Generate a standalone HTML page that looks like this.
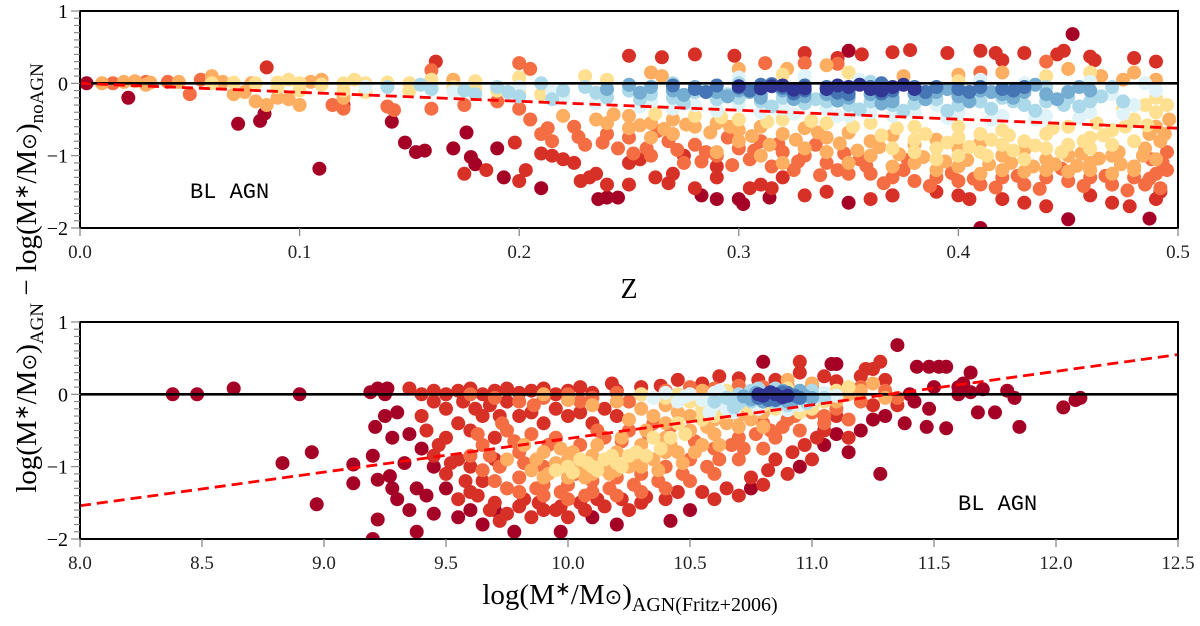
<!DOCTYPE html>
<html><head><meta charset="utf-8"><style>
html,body{margin:0;padding:0;background:#fff;}
svg{display:block;}
</style></head><body>
<svg id="chart" width="1200" height="626" viewBox="0 0 1200 626" xmlns="http://www.w3.org/2000/svg" font-family="'Liberation Serif', serif">
<g id="top"></g>
<g id="bot"></g>
<text transform="translate(36,278) rotate(-90)" text-anchor="middle" font-size="29">log(M<tspan font-size="19" dy="-8">∗</tspan><tspan dy="8">/M</tspan><tspan font-size="20">⊙</tspan>)<tspan font-size="19" dy="7">AGN</tspan><tspan dy="-7"> − log(M</tspan><tspan font-size="19" dy="-8">∗</tspan><tspan dy="8">/M</tspan><tspan font-size="20">⊙</tspan>)<tspan font-size="19" dy="7">noAGN</tspan></text>
<text x="629" y="298" text-anchor="middle" font-size="28">Z</text>
<text x="630" y="604" text-anchor="middle" font-size="29">log(M<tspan font-size="19" dy="-9">∗</tspan><tspan dy="9">/M</tspan><tspan font-size="21">⊙</tspan>)<tspan font-size="20" dy="7">AGN(Fritz+2006)</tspan></text>
<text x="190" y="198" font-family="'Liberation Mono', monospace" font-size="22">BL AGN</text>
<text x="958" y="510" font-family="'Liberation Mono', monospace" font-size="22">BL AGN</text>
</svg>
<script>
const palette = ['#a50026','#d73027','#f46d43','#fdae61','#fee090','#e0f3f8','#abd9e9','#74add1','#4575b4','#313695'];
const topXTicks = [0.0,0.1,0.2,0.3,0.4,0.5];
const topXTickLabels = ['0.0','0.1','0.2','0.3','0.4','0.5'];
const botXTicks = [8.0,8.5,9.0,9.5,10.0,10.5,11.0,11.5,12.0,12.5];
const botXTickLabels = ['8.0','8.5','9.0','9.5','10.0','10.5','11.0','11.5','12.0','12.5'];
const yTicks = [1,0,-1,-2];
const yTickLabels = ['1','0','−1','−2'];
const topFitX = [0.0,0.5];
const topFitY = [0.0,-0.62];
const botFitX = [8.0,12.5];
const botFitY = [-1.54,0.55];

const topC0 = [[0.003,0.0],[0.022,-0.2],[0.072,-0.56],[0.082,-0.52],[0.084,-0.42],[0.109,-1.18],[0.142,-0.53],[0.148,-0.82],[0.153,-0.95],[0.157,-0.93],[0.17,-0.9],[0.176,-0.68],[0.178,-1.02],[0.18,-1.12],[0.19,-0.9],[0.193,-1.3],[0.21,-1.45],[0.236,-1.6],[0.24,-1.58],[0.245,-1.58],[0.29,-1.6],[0.283,-1.55],[0.3,-1.6],[0.302,-1.67],[0.314,-1.58],[0.35,-1.65],[0.37,-1.55],[0.41,-2.0],[0.45,-1.88],[0.487,-1.87],[0.35,0.45],[0.452,0.68]];
const topC1 = [[0.085,0.22],[0.162,0.3],[0.25,0.38],[0.265,0.36],[0.28,0.4],[0.298,0.38],[0.33,0.42],[0.345,0.35],[0.356,0.4],[0.37,0.43],[0.378,0.46],[0.41,0.45],[0.417,0.42],[0.43,0.42],[0.445,0.4],[0.448,0.45],[0.46,0.37],[0.462,0.32],[0.48,0.35],[0.49,0.3],[0.395,0.42],[0.42,0.32],[0.12,-0.3],[0.198,-0.82],[0.21,-0.97],[0.215,-1.0],[0.22,-1.05],[0.225,-1.1],[0.232,-1.3],[0.235,-1.25],[0.228,-1.35],[0.24,-1.4],[0.25,-1.1],[0.255,-1.05],[0.262,-1.3],[0.268,-1.38],[0.27,-1.25],[0.28,-1.45],[0.29,-1.3],[0.305,-1.45],[0.31,-1.4],[0.32,-1.3],[0.315,-1.45],[0.33,-1.55],[0.34,-1.5],[0.25,-1.4],[0.2,-1.35],[0.203,-1.2],[0.175,-1.25],[0.185,-1.2],[0.36,-1.6],[0.37,-1.55],[0.39,-1.5],[0.4,-1.55],[0.405,-1.6],[0.42,-1.6],[0.43,-1.65],[0.44,-1.7],[0.46,-1.55],[0.47,-1.65],[0.478,-1.7],[0.49,-1.6],[0.492,-1.5],[0.29,-1.15],[0.275,-1.0]];
const topC2 = [[0.115,-0.3],[0.12,-0.35],[0.14,-0.32],[0.143,-0.37],[0.16,-0.35],[0.175,-0.3],[0.19,-0.25],[0.2,-0.35],[0.205,-0.5],[0.21,-0.7],[0.215,-0.8],[0.225,-0.6],[0.23,-0.85],[0.24,-0.7],[0.245,-0.9],[0.25,-0.75],[0.258,-0.9],[0.26,-1.0],[0.268,-0.8],[0.275,-1.1],[0.28,-0.85],[0.285,-0.95],[0.29,-1.0],[0.295,-0.75],[0.3,-0.9],[0.305,-1.05],[0.31,-0.8],[0.315,-1.15],[0.32,-0.95],[0.325,-1.2],[0.33,-1.0],[0.335,-0.85],[0.34,-1.1],[0.345,-1.2],[0.35,-1.25],[0.355,-1.05],[0.36,-1.25],[0.37,-1.3],[0.375,-1.2],[0.38,-1.35],[0.39,-1.3],[0.4,-1.35],[0.41,-1.4],[0.42,-1.3],[0.43,-1.4],[0.44,-1.3],[0.45,-1.35],[0.46,-1.3],[0.47,-1.4],[0.48,-1.3],[0.49,-1.25],[0.493,-1.1],[0.492,-1.45],[0.485,-1.4],[0.33,0.28],[0.312,0.28],[0.345,0.27],[0.41,0.15],[0.44,0.3],[0.16,0.18],[0.205,0.2],[0.2,0.28],[0.03,0.02],[0.015,0.0],[0.04,0.02],[0.055,0.05],[0.05,-0.15],
[0.213,-0.62],[0.227,-0.74],[0.238,-0.82],[0.252,-0.97],[0.263,-0.66],[0.272,-0.92],[0.283,-1.08],[0.297,-1.13],[0.307,-0.93],[0.318,-0.84],[0.327,-1.08],[0.337,-1.27],[0.348,-0.97],[0.358,-1.14],[0.366,-1.38],[0.377,-1.06],[0.387,-1.42],[0.397,-1.24],[0.407,-1.32],[0.417,-1.44],[0.427,-1.28],[0.437,-1.46],[0.447,-1.18],[0.457,-1.42],[0.467,-1.28],[0.477,-1.48],[0.487,-1.32],[0.495,-1.2],[0.495,-0.95],[0.488,-1.05]];
const topC3 = [[0.01,0.0],[0.02,0.02],[0.025,0.03],[0.032,0.01],[0.045,0.02],[0.06,0.03],[0.065,0.02],[0.07,-0.15],[0.075,-0.12],[0.08,-0.25],[0.085,-0.3],[0.09,-0.2],[0.095,-0.22],[0.1,-0.3],[0.105,0.02],[0.11,0.05],[0.078,0.0],[0.06,0.1],[0.12,-0.2],[0.03,-0.02],[0.22,-0.45],[0.235,-0.5],[0.25,-0.45],[0.26,-0.55],[0.27,-0.5],[0.28,-0.6],[0.29,-0.55],[0.3,-0.65],[0.31,-0.6],[0.32,-0.7],[0.33,-0.62],[0.34,-0.75],[0.35,-0.68],[0.36,-0.8],[0.37,-0.72],[0.38,-0.85],[0.39,-0.78],[0.4,-0.9],[0.41,-0.82],[0.42,-1.0],[0.43,-0.92],[0.44,-1.05],[0.45,-1.0],[0.46,-1.1],[0.47,-1.0],[0.48,-1.15],[0.49,-1.05],[0.492,-0.8],[0.49,-0.6],[0.485,-0.9],[0.29,-0.95],[0.3,-0.8],[0.31,-1.0],[0.32,-1.1],[0.33,-0.9],[0.34,-0.95],[0.35,-1.1],[0.36,-1.0],[0.37,-1.15],[0.38,-1.1],[0.39,-1.2],[0.4,-1.15],[0.41,-1.25],[0.42,-1.2],[0.43,-1.22],[0.44,-1.2],[0.45,-1.22],[0.46,-1.2],[0.47,-1.25],[0.48,-1.2],[0.26,-0.75],[0.27,-0.7],[0.25,-0.62],[0.24,-0.55],[0.17,0.05],[0.26,0.15],[0.3,0.2],[0.322,0.2],[0.34,0.25],[0.375,0.1],[0.4,0.12],[0.42,0.15],[0.45,0.2],[0.465,0.1],[0.475,0.05],[0.49,0.05],[0.265,0.1],[0.48,0.15],
[0.243,-0.43],[0.255,-0.58],[0.266,-0.63],[0.276,-0.57],[0.287,-0.68],[0.296,-0.6],[0.306,-0.73],[0.314,-0.85],[0.326,-0.78],[0.336,-0.68],[0.346,-0.83],[0.354,-0.93],[0.364,-0.88],[0.373,-0.98],[0.384,-1.02],[0.394,-1.08],[0.404,-1.06],[0.414,-1.12],[0.424,-1.1],[0.434,-1.15],[0.444,-1.12],[0.454,-1.14],[0.464,-1.04],[0.474,-1.12],[0.484,-1.0],[0.494,-0.7],[0.496,-0.5],[0.487,-0.7],[0.473,-0.95],[0.456,-0.97]];
const topC4 = [[0.06,0.0],[0.07,0.01],[0.08,0.0],[0.09,0.01],[0.1,0.0],[0.11,-0.02],[0.12,0.0],[0.13,0.0],[0.14,0.01],[0.15,0.0],[0.16,-0.02],[0.17,-0.05],[0.18,-0.08],[0.19,-0.1],[0.2,-0.12],[0.21,-0.15],[0.12,-0.1],[0.13,-0.12],[0.15,-0.1],[0.09,-0.05],[0.1,-0.1],[0.095,0.05],[0.125,0.05],[0.16,0.05],[0.18,0.03],[0.2,0.08],[0.23,0.1],[0.24,0.05],[0.28,-0.45],[0.3,-0.5],[0.32,-0.5],[0.34,-0.55],[0.36,-0.55],[0.38,-0.6],[0.4,-0.6],[0.42,-0.65],[0.44,-0.7],[0.46,-0.75],[0.48,-0.8],[0.37,-0.9],[0.38,-0.95],[0.39,-0.9],[0.4,-1.0],[0.41,-0.95],[0.42,-0.85],[0.43,-0.8],[0.44,-0.9],[0.45,-0.85],[0.46,-0.9],[0.47,-0.85],[0.39,-1.05],[0.4,-0.75],[0.41,-0.7],[0.43,-1.05],[0.45,-0.6],[0.47,-0.65],[0.48,-0.5],[0.49,-0.4],[0.485,-0.3],[0.49,-0.2],[0.475,-0.35],[0.32,0.12],[0.35,0.15],[0.4,0.03],[0.44,0.1],[0.46,0.15],
[0.262,-0.42],[0.292,-0.47],[0.313,-0.53],[0.333,-0.52],[0.352,-0.6],[0.372,-0.62],[0.385,-0.7],[0.395,-0.82],[0.405,-0.88],[0.415,-0.78],[0.425,-0.93],[0.435,-0.86],[0.447,-0.95],[0.457,-0.8],[0.466,-0.72],[0.476,-0.6],[0.486,-0.58],[0.495,-0.3],[0.413,-1.0],[0.423,-0.72],[0.443,-0.62],[0.463,-0.55],[0.38,-0.78],[0.365,-0.72]];
const topC5 = [[0.13,-0.05],[0.17,-0.12],[0.2,-0.05],[0.22,-0.2],[0.24,-0.15],[0.26,-0.25],[0.28,-0.3],[0.3,-0.3],[0.32,-0.35],[0.34,-0.35],[0.36,-0.4],[0.38,-0.4],[0.4,-0.4],[0.42,-0.45],[0.44,-0.45],[0.46,-0.4],[0.48,-0.3],[0.47,-0.15],[0.45,-0.1],[0.43,0.0],[0.41,0.05],[0.3,0.08],[0.33,0.1],[0.355,0.05],[0.25,-0.05],[0.35,-0.45],[0.31,-0.4],[0.39,-0.3],
[0.215,-0.12],[0.235,-0.27],[0.255,-0.32],[0.27,-0.35],[0.29,-0.38],[0.325,-0.42],[0.345,-0.45],[0.37,-0.45],[0.395,-0.48],[0.415,-0.5],[0.435,-0.5],[0.455,-0.48],[0.475,-0.42],[0.49,-0.1],[0.485,0.0],[0.46,0.02]];
const topC6 = [[0.14,-0.05],[0.16,-0.08],[0.18,-0.15],[0.2,-0.18],[0.22,-0.1],[0.23,-0.05],[0.24,-0.2],[0.25,-0.1],[0.26,-0.15],[0.27,-0.2],[0.28,-0.12],[0.29,-0.22],[0.3,-0.2],[0.31,-0.25],[0.32,-0.2],[0.33,-0.28],[0.34,-0.25],[0.35,-0.3],[0.36,-0.25],[0.37,-0.3],[0.38,-0.28],[0.39,-0.22],[0.4,-0.3],[0.41,-0.25],[0.42,-0.2],[0.43,-0.3],[0.44,-0.25],[0.45,-0.2],[0.46,-0.25],[0.47,-0.05],[0.44,-0.05],[0.3,0.0],[0.27,0.0],[0.36,0.02],[0.21,0.0],[0.19,-0.05],
[0.155,-0.02],[0.175,-0.1],[0.195,-0.12],[0.215,-0.22],[0.235,-0.13],[0.255,-0.22],[0.275,-0.28],[0.295,-0.15],[0.315,-0.32],[0.335,-0.22],[0.355,-0.36],[0.375,-0.38],[0.395,-0.38],[0.415,-0.35],[0.435,-0.38],[0.455,-0.32],[0.465,-0.18],[0.475,-0.25],[0.448,-0.3],[0.425,-0.25]];
const topC7 = [[0.24,-0.08],[0.26,-0.05],[0.27,-0.1],[0.28,-0.05],[0.29,-0.12],[0.3,-0.1],[0.31,-0.15],[0.32,-0.1],[0.33,-0.18],[0.34,-0.15],[0.35,-0.2],[0.36,-0.15],[0.37,-0.2],[0.38,-0.15],[0.39,-0.12],[0.4,-0.18],[0.41,-0.1],[0.42,-0.15],[0.43,-0.12],[0.44,-0.15],[0.45,-0.12],[0.46,-0.1],[0.37,-0.25],[0.31,-0.2],[0.25,-0.02],
[0.255,-0.13],[0.275,-0.16],[0.295,-0.18],[0.305,-0.12],[0.325,-0.22],[0.345,-0.24],[0.365,-0.28],[0.385,-0.22],[0.405,-0.25],[0.425,-0.2],[0.445,-0.22],[0.455,-0.05],[0.435,-0.02],[0.415,-0.12],[0.395,-0.08]];
const topC8 = [[0.27,-0.03],[0.28,-0.08],[0.29,-0.03],[0.3,-0.06],[0.31,-0.02],[0.32,-0.06],[0.33,-0.1],[0.34,-0.05],[0.35,-0.1],[0.36,-0.05],[0.37,-0.1],[0.38,-0.05],[0.39,-0.05],[0.4,-0.08],[0.41,-0.05],[0.42,-0.08],[0.43,-0.05],[0.35,-0.15],[0.33,-0.03],
[0.285,-0.12],[0.305,-0.1],[0.325,-0.14],[0.345,-0.13],[0.365,-0.14],[0.385,-0.12],[0.405,-0.12],[0.425,-0.1],[0.315,-0.01],[0.365,0.0]];
const topC9 = [[0.3,-0.04],[0.31,-0.07],[0.32,-0.03],[0.33,-0.07],[0.34,-0.08],[0.35,-0.05],[0.36,-0.08],[0.37,-0.05],[0.38,-0.08],[0.355,-0.02],[0.325,-0.09],[0.345,-0.03],[0.365,-0.1],[0.375,-0.02],[0.315,-0.04]];

const botC0 = [[8.38,0],[8.48,0],[8.63,0.08],[8.9,0],[8.83,-0.95],[8.95,-0.8],[8.97,-1.52],[9.12,-0.97],[9.12,-1.23],[9.2,-0.85],[9.21,-0.45],[9.22,-1.18],[9.22,-1.73],[9.27,-1.13],[9.3,-1.45],[9.2,-2.0],[9.19,0.03],[9.22,0.08],[9.26,0.08],[9.25,0],[9.38,-1.9],[9.35,-1.6],[9.45,-1.65],[9.55,-1.7],[9.78,-1.9],[9.97,-1.9],[10.42,-1.75],[11.1,-0.55],[11.15,-0.8],[11.28,-1.1],[11.38,-0.4],[11.42,-0.1],[11.47,-0.45],[11.48,-0.2],[11.55,-0.47],[11.6,0.0],[11.62,0.15],[11.65,0.03],[11.68,-0.25],[11.7,0.07],[11.75,-0.25],[11.8,0.05],[11.83,-0.05],[11.85,-0.45],[12.03,-0.18],[12.08,-0.08],[12.1,-0.05],[11.35,0.68],[11.43,0.38],[11.48,0.38],[11.52,0.38],[11.55,0.38],[11.65,0.3],[11.6,0.1],[11.5,0.1],[11.4,0.0],[11.1,0.42],[11.08,0.42],[10.8,0.45],[9.25,-0.3],[9.3,-0.25],[9.28,-0.6],[9.35,-0.55],[9.4,-0.75],[9.33,-0.95],[9.45,-1.0],[9.5,-1.3],[9.38,-1.3],[9.42,-1.4],[9.28,-1.3],[9.6,-1.6],[9.65,-1.8],[9.7,-1.6],[10.1,-1.7],[10.2,-1.8],[10.5,-1.6],[10.75,-1.3],[10.95,-1.0],[11.05,-0.7],[11.2,-0.5],[11.25,-0.35],[11.3,-0.3]];
const botC1 = [[9.35,0.08],[9.4,0.0],[9.45,0.05],[9.5,0.0],[9.55,0.05],[9.6,0.08],[9.65,0.0],[9.7,0.05],[9.75,0.08],[9.8,0.02],[9.85,0.05],[9.9,0.08],[9.95,0.0],[10.0,0.05],[10.05,0.1],[10.1,0.02],[10.18,0.15],[10.2,0.05],[10.3,0.1],[10.38,0.12],[10.45,0.2],[10.55,0.15],[10.62,0.25],[10.7,0.22],[10.78,0.2],[10.85,0.2],[10.95,0.3],[11.05,0.25],[11.1,0.18],[11.2,0.25],[11.3,0.2],[11.25,0.35],[9.4,-0.3],[9.5,-0.2],[9.55,-0.4],[9.6,-0.5],[9.65,-0.3],[9.7,-0.6],[9.5,-0.6],[9.45,-0.85],[9.55,-0.9],[9.6,-1.0],[9.65,-1.2],[9.7,-0.9],[9.5,-1.1],[9.55,-1.45],[9.6,-1.35],[9.7,-1.5],[9.75,-1.65],[9.8,-1.55],[9.85,-1.7],[9.9,-1.6],[9.95,-1.6],[10.0,-1.7],[10.05,-1.5],[10.15,-1.55],[10.25,-1.6],[10.3,-1.5],[10.4,-1.45],[10.6,-1.45],[10.7,-1.4],[10.8,-1.25],[10.9,-1.1],[10.85,-0.9],[11.0,-0.9],[11.05,-0.5],[11.1,-0.3],[11.15,-0.6],[11.25,-0.15],[11.35,-0.15],[11.3,0.0],[9.8,-0.3],[9.75,-0.1],[10.0,-0.3],[10.1,-0.4],[10.2,-0.3],[9.9,-0.4],[11.28,0.45],[11.22,0.35],[10.95,0.45],
[9.42,-0.5],[9.47,-0.7],[9.52,-0.95],[9.58,-1.2],[9.63,-1.4],[9.68,-1.6],[9.72,-1.75],[9.82,-1.45],[9.88,-1.5],[9.97,-1.55],[10.07,-1.6],[10.12,-1.45],[10.22,-1.45],[10.32,-1.42],[10.45,-1.35],[10.55,-1.35],[10.65,-1.3],[10.75,-1.15],[10.82,-1.05],[10.92,-0.8],[10.97,-0.7],[11.02,-0.6],[9.62,-0.2],[9.72,-0.3],[9.85,-0.25],[9.95,-0.2],[10.05,-0.25],[10.15,-0.2],[9.45,-0.1],[9.57,-0.1],[9.68,-0.15]];
const botC2 = [[9.6,0.0],[9.7,-0.05],[9.8,-0.1],[9.9,-0.05],[10.0,0.0],[10.1,-0.05],[10.2,0.02],[10.3,0.0],[10.4,0.05],[10.5,0.1],[10.6,0.08],[10.7,0.12],[10.8,0.1],[10.9,0.12],[11.0,0.1],[11.1,0.05],[11.2,0.1],[11.3,0.05],[11.35,-0.05],[11.2,-0.1],[11.1,-0.2],[11.0,-0.25],[10.9,-0.35],[10.95,-0.5],[10.85,-0.6],[10.8,-0.75],[10.7,-0.9],[10.6,-1.1],[10.5,-1.2],[10.4,-1.3],[10.3,-1.35],[10.2,-1.4],[10.1,-1.35],[10.0,-1.45],[9.9,-1.4],[9.8,-1.35],[9.75,-1.3],[9.7,-1.2],[9.65,-1.05],[9.6,-0.85],[9.65,-0.7],[9.75,-0.5],[9.85,-0.55],[9.95,-0.6],[10.05,-0.7],[10.15,-0.6],[10.25,-0.5],[10.35,-0.4],[9.8,-0.8],[9.9,-1.0],[10.8,-0.4],[10.7,-0.6],[10.6,-0.75],[10.5,-0.9],[10.4,-1.0],[10.3,-1.1],[10.2,-1.15],[10.1,-1.2],[10.0,-1.25],[9.9,-1.25],[9.8,-1.15],[11.15,-0.35],[11.05,-0.4],
[9.63,-0.55],[9.68,-0.85],[9.72,-1.0],[9.73,-0.4],[9.78,-0.65],[9.82,-0.95],[9.87,-1.3],[9.92,-0.7],[9.97,-1.35],[10.03,-1.1],[10.07,-1.4],[10.12,-0.5],[10.17,-1.3],[10.22,-0.65],[10.27,-1.25],[10.33,-0.55],[10.37,-1.2],[10.42,-0.45],[10.47,-1.1],[10.52,-0.65],[10.57,-1.0],[10.62,-0.9],[10.67,-0.7],[10.72,-0.75],[10.77,-0.55],[10.83,-0.5],[10.88,-0.45],[10.93,-0.3],[10.97,-0.15],[11.05,-0.3],[9.86,-0.15],[10.05,-0.1],[10.25,-0.1],[10.45,-0.05]];
const botC3 = [[9.9,0.0],[10.0,-0.08],[10.1,-0.15],[10.2,-0.1],[10.3,-0.2],[10.4,-0.15],[10.5,-0.05],[10.55,0.05],[10.6,-0.2],[10.7,-0.3],[10.8,-0.25],[10.9,-0.2],[11.0,-0.15],[11.1,-0.1],[11.15,0.0],[11.2,0.05],[11.25,0.15],[11.0,0.15],[10.9,0.2],[11.3,-0.05],[9.75,-0.9],[9.85,-1.05],[9.95,-0.95],[10.05,-1.0],[10.15,-0.95],[10.25,-1.0],[10.35,-0.9],[10.45,-0.8],[10.55,-0.7],[10.6,-0.55],[10.5,-0.5],[10.4,-0.6],[10.3,-0.7],[10.2,-0.8],[10.1,-0.85],[10.0,-1.15],[9.9,-1.15],[10.1,-1.1],[10.2,-1.05],[10.3,-1.0],[10.4,-0.8],[10.0,-0.9],[9.9,-0.8],[10.5,-0.3],[10.4,-0.4],[10.7,-0.45],[10.75,-0.35],[10.85,-0.1],
[9.82,-0.7],[9.87,-0.9],[9.92,-1.1],[9.97,-0.75],[10.02,-0.8],[10.07,-1.15],[10.12,-0.7],[10.17,-1.1],[10.22,-0.6],[10.27,-0.9],[10.32,-0.5],[10.37,-1.05],[10.42,-0.7],[10.47,-0.95],[10.52,-0.8],[10.57,-0.45],[10.62,-0.7],[10.65,-0.4],[10.35,-0.3],[10.25,-0.35],[10.6,-0.35],[10.8,-0.45],[10.45,-0.25]];
const botC4 = [[10.3,0.0],[10.4,-0.05],[10.45,0.0],[10.5,-0.1],[10.55,-0.15],[10.6,-0.05],[10.65,-0.1],[10.7,-0.15],[10.75,-0.2],[10.8,-0.15],[10.85,-0.2],[10.65,0.05],[10.9,0.08],[10.95,-0.25],[11.0,-0.2],[11.05,-0.1],[11.1,0.05],[11.15,0.1],[10.0,-1.0],[10.1,-1.0],[10.15,-0.9],[10.2,-0.95],[10.25,-0.85],[10.05,-0.9],
[9.95,-1.05],[10.02,-1.08],[10.08,-0.95],[10.12,-1.05],[10.18,-0.85],[10.22,-1.0],[10.28,-0.8],[10.32,-0.85],[10.38,-0.75],[10.42,-0.6],[10.48,-0.55],[10.35,-0.6],[10.55,-0.35],[10.6,-0.3],[10.45,-0.4],[10.65,-0.25],[10.55,-0.2]];
const botC5 = [[10.35,-0.05],[10.45,-0.1],[10.55,-0.08],[10.6,-0.15],[10.5,0.0],[10.6,0.02],[10.65,-0.2],[10.7,-0.05],[10.95,-0.15],[11.0,-0.08],[11.05,0.02],[11.1,-0.02],[10.4,0.02],[10.48,-0.03],[10.58,-0.25],[10.68,-0.25],[10.62,0.05],[10.78,-0.2],[10.9,-0.22]];
const botC6 = [[10.6,-0.1],[10.65,-0.05],[10.7,0.0],[10.7,-0.12],[10.75,0.05],[10.75,-0.1],[10.8,-0.05],[10.85,-0.12],[10.9,-0.05],[10.95,0.02],[10.9,-0.15],[11.0,0.05],[11.05,-0.05],[10.85,0.08],[10.68,-0.18],[10.78,0.08],[10.98,-0.12]];
const botC7 = [[10.72,-0.03],[10.77,0.02],[10.8,-0.1],[10.85,-0.02],[10.88,0.05],[10.92,-0.08],[10.97,-0.02],[11.0,-0.05],[10.75,-0.07],[10.9,-0.1],[10.95,0.05]];
const botC8 = [[10.78,-0.05],[10.82,0.0],[10.87,-0.05],[10.9,0.02],[10.93,-0.02],[10.82,-0.08],[10.85,-0.08],[10.88,0.03],[10.95,-0.05]];
const botC9 = [[10.8,-0.02],[10.85,0.0],[10.88,-0.04],[10.83,0.03],[10.78,0.0],[10.9,-0.02]];

const NS='http://www.w3.org/2000/svg';
function mk(tag, attrs, parent){const e=document.createElementNS(NS,tag);for(const k in attrs)e.setAttribute(k,attrs[k]);parent.appendChild(e);return e;}

function panel(g, xmin, xmax, top, bottom, xTicks, xLabels, groups, fitX, fitY, name){
  const L=80,R=1178;
  const X=v=>L+(v-xmin)/(xmax-xmin)*(R-L);
  const Y=v=>top+(1-v)/3*(bottom-top);
  const clip='clip-'+name;
  const cp=mk('clipPath',{id:clip},g);
  mk('rect',{x:L,y:top,width:R-L,height:bottom-top},cp);
  const pts=mk('g',{'clip-path':'url(#'+clip+')'},g);
  
  
  groups.forEach((arr,ci)=>{
    arr.forEach(p=>{
      const c=mk('circle',{cx:X(p[0]).toFixed(1),cy:Y(p[1]).toFixed(1),r:7,fill:palette[ci]},pts);
      
      
    });
  });
  const zl=mk('line',{x1:L,x2:R,y1:Y(0),y2:Y(0),stroke:'#000','stroke-width':2.6},g);
  
  
  const fl=mk('line',{x1:X(fitX[0]),y1:Y(fitY[0]),x2:X(fitX[1]),y2:Y(fitY[1]),stroke:'#ff0000','stroke-width':2.8,'stroke-dasharray':'11,6'},g);
  
  
  const fr=mk('rect',{x:L,y:top,width:R-L,height:bottom-top,fill:'none',stroke:'#000','stroke-width':2},g);
  
  
  for(let v=-20;v<=10;v++){
    const yy=Y(v/10); const major=(v%10===0);
    mk('line',{x1:L-(major?9:6),x2:L,y1:yy,y2:yy,stroke:'#888','stroke-width':1.2},g);
  }
  yTicks.forEach((v,i)=>{
    const t=mk('text',{x:L-12,y:Y(v)+7,'text-anchor':'end','font-size':20},g);
    t.textContent=yTickLabels[i];
    
    
  });
  xTicks.forEach((v,i)=>{
    mk('line',{x1:X(v),x2:X(v),y1:bottom,y2:bottom+8,stroke:'#888','stroke-width':1.3},g);
    const t=mk('text',{x:X(v),y:bottom+30,'text-anchor':'middle','font-size':19,fill:'#222'},g);
    t.textContent=xLabels[i];
    
    
  });
}
panel(document.getElementById('top'),0,0.5,11,228,topXTicks,topXTickLabels,
  [topC0,topC1,topC2,topC3,topC4,topC5,topC6,topC7,topC8,topC9],topFitX,topFitY,'top');
panel(document.getElementById('bot'),8,12.5,322,539,botXTicks,botXTickLabels,
  [botC0,botC1,botC2,botC3,botC4,botC5,botC6,botC7,botC8,botC9],botFitX,botFitY,'bottom');
</script>
</body></html>
